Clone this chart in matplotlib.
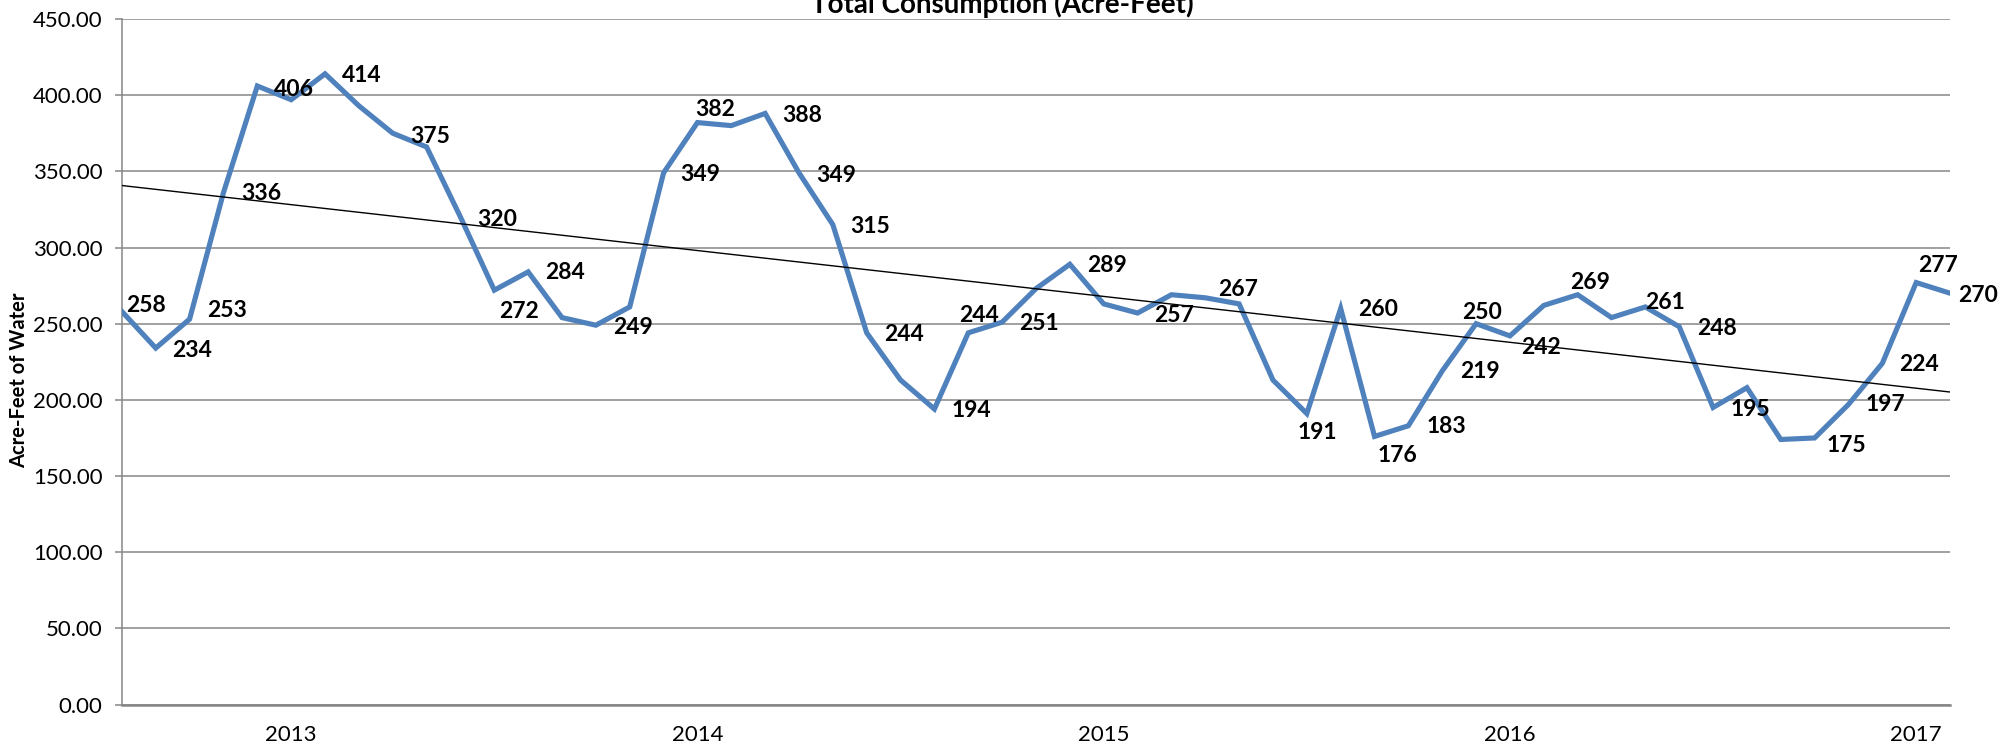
import numpy as np
import pandas as pd
import matplotlib
matplotlib.use("Agg")
from matplotlib import pyplot as plt

# monthly totals, Aug 2012 - Feb 2017 (acre-feet)
consumption = [
    258, 234, 253, 336, 406, 397, 414, 393, 375, 366,
    320, 272, 284, 254, 249, 261, 349, 382, 380, 388,
    349, 315, 244, 213, 194, 244, 251, 273, 289, 263,
    257, 269, 267, 263, 213, 191, 260, 176, 183, 219,
    250, 242, 262, 269, 254, 261, 248, 195, 208, 174,
    175, 197, 224, 277, 270,
]
start_month = "2012-08-01"
title = "Total Consumption (Acre-Feet)"
y_label = "Acre-Feet of Water"
y_ticks = [0, 50, 100, 150, 200, 250, 300, 350, 400, 450]

# which points carry a data label, and where it sits (pixel offset from point)
label_offsets = {
    0: (4, 6), 1: (16, -2), 2: (18, 9), 3: (18, -1), 4: (17, -3),
    6: (17, -2), 8: (17, -3), 10: (17, -2), 11: (5, -21), 12: (17, -1),
    14: (17, -2), 16: (17, -2), 17: (-2, 13), 19: (17, -2), 20: (17, -3),
    21: (17, -2), 22: (17, -2), 24: (17, -1), 25: (-9, 17), 26: (17, -1),
    28: (17, -1), 30: (17, -2), 32: (13, 8), 35: (-9, -19), 36: (17, -1),
    37: (3, -19), 38: (18, -1), 39: (18, -1), 40: (-14, 11), 41: (11, -12),
    43: (-8, 12), 45: (0, 4), 46: (18, -2), 47: (17, -2), 50: (12, -8),
    51: (17, 0), 52: (17, -1), 53: (2, 17), 54: (8, -2),
}

months = pd.date_range(start_month, periods=len(consumption), freq="MS")
x = np.arange(len(consumption))
y = np.array(consumption, dtype=float)

fig = plt.figure(figsize=(20.05, 7.47), dpi=100)
ax = fig.add_axes([0.0608, 0.0568, 0.9118, 0.9178])

grid_c = "#868686"
ax.plot(x, y, color="#4F81BD", lw=3.7, solid_joinstyle="miter", zorder=3)

# linear trendline
slope, icpt = np.polyfit(x, y, 1)
ax.plot(x, slope * x + icpt, color="black", lw=1.0, zorder=4)

for i, (dx, dy) in label_offsets.items():
    ax.annotate(
        f"{consumption[i]:.0f}",
        (x[i], y[i]),
        xytext=(dx, dy),
        textcoords="offset pixels",
        ha="left",
        va="center",
        fontsize=16.5,
        fontweight="bold",
        family="Lato",
        zorder=5,
    )

ax.set_xlim(0, len(consumption) - 1)
ax.set_ylim(0, 450)
ax.set_yticks(y_ticks)
ax.set_yticklabels([f"{t:.2f}" for t in y_ticks], family="Lato", fontsize=16)
jan = [i for i, m in enumerate(months) if m.month == 1]
ax.set_xticks(jan)
ax.set_xticklabels([str(months[i].year) for i in jan], family="Lato", fontsize=16)

ax.grid(axis="y", color=grid_c, lw=1.1)
ax.set_axisbelow(True)
ax.tick_params(axis="y", length=5, width=1.1, color=grid_c, pad=9)
ax.tick_params(axis="x", length=0, pad=15)
for s in ["top", "right"]:
    ax.spines[s].set_visible(False)
ax.spines["left"].set_color(grid_c)
ax.spines["left"].set_linewidth(1.1)
ax.spines["bottom"].set_color(grid_c)
ax.spines["bottom"].set_linewidth(1.8)

fig.text(19 / 2005, 1 - 380 / 747, y_label, rotation=90, ha="center", va="center",
         fontsize=14.5, fontweight="bold", family="Lato")
fig.text(1002 / 2005, 1 - 13 / 747, title, ha="center", va="baseline",
         fontsize=20, fontweight="bold", family="Lato")

fig.savefig("out.png", dpi=100)
